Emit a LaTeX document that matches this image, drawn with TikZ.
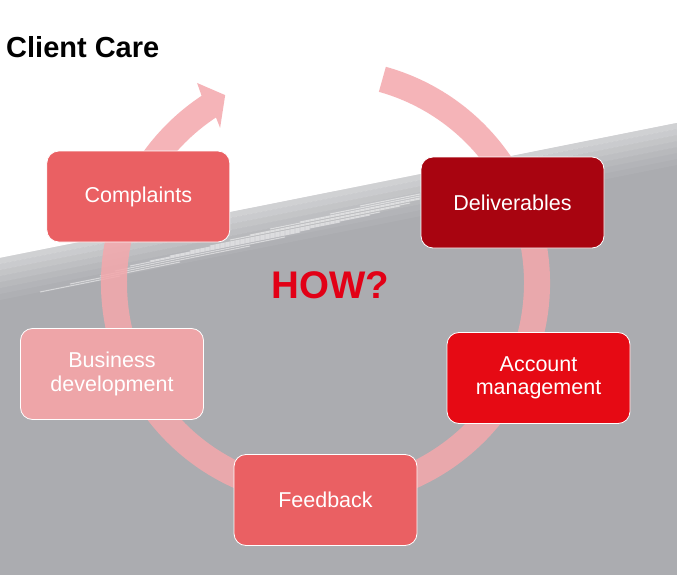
\documentclass[tikz,border=0pt]{standalone}
\usepackage{fontspec}
\setmainfont{Liberation Sans}

\definecolor{bggray}{RGB}{171,172,176}
\definecolor{ringpink}{RGB}{244,168,172}
\definecolor{boxsalmon}{RGB}{234,96,99}
\definecolor{boxdark}{RGB}{168,4,16}
\definecolor{boxred}{RGB}{230,10,20}
\definecolor{boxpink}{RGB}{238,165,168}
\definecolor{howred}{RGB}{226,0,22}

\begin{document}
\begin{tikzpicture}[x=1pt,y=-1pt,
    box/.style={rounded corners=12pt, draw=white, line width=0.8pt,
        minimum width=183pt, minimum height=91pt, inner sep=0pt,
        text=white, align=center, font=\fontsize{21.5}{23.5}\selectfont},
    streak/.style={white, opacity=0.5, line width=1pt}]
    % Page
    \useasboundingbox (0,0) rectangle (677,575);
    \fill[white] (0,0) rectangle (677,575);

    % Grey photo area with a lighter edge
    \fill[bggray] (0,258) -- (677,123) -- (677,575) -- (0,575) -- cycle;
    \foreach \d/\o in {0/0.45, 6/0.38, 12/0.3, 18/0.23, 24/0.16, 30/0.1, 36/0.05}
        \fill[white, opacity=\o] (0,258+\d) -- (677,123+\d) -- (677,129+\d) -- (0,264+\d) -- cycle;

    % Streaks
    \foreach \x/\y/\l in {40/292/80, 70/284/110, 100/276/150, 115/271/170, 130/266/170,
                          150/261/160, 170/256/170, 190/251/180, 210/246/170, 230/240/170,
                          250/235/160, 270/229/150, 300/222/120, 330/214/90, 360/206/60}
        \draw[streak] (\x,\y) -- ++(\l,-0.2*\l);

    % Cycle arrow
    \begin{scope}[shift={(325.5,283)}]
        \fill[ringpink, opacity=0.85] (-74.4:224.5) arc[start angle=-74.4, end angle=236.5, radius=224.5]
            -- (237.3:237.7) -- (241.9:213) -- (235.8:187.5) -- (236.5:198.5)
            arc[start angle=236.5, end angle=-74.4, radius=198.5] -- cycle;
    \end{scope}

    % Boxes
    \node[box, fill=boxsalmon] (complaints) at (138.3,196.5) {Complaints};
    \node[box, fill=boxdark] (deliverables) at (512.5,202.5) {Deliverables};
    \node[box, fill=boxred] (account) at (538.5,378) {Account\\management};
    \node[box, fill=boxsalmon] (feedback) at (325.5,500) {Feedback};
    \node[box, fill=boxpink] (business) at (112,374) {Business\\development};

    % Texts
    \node[font=\bfseries\fontsize{38.5}{40}\selectfont, text=howred, anchor=base, inner sep=0pt] (how) at (330.5,298) {HOW?};
    \node[font=\bfseries\fontsize{29}{32}\selectfont, anchor=base west, inner sep=0pt] (title) at (6,58) {Client Care};
\end{tikzpicture}
\end{document}
